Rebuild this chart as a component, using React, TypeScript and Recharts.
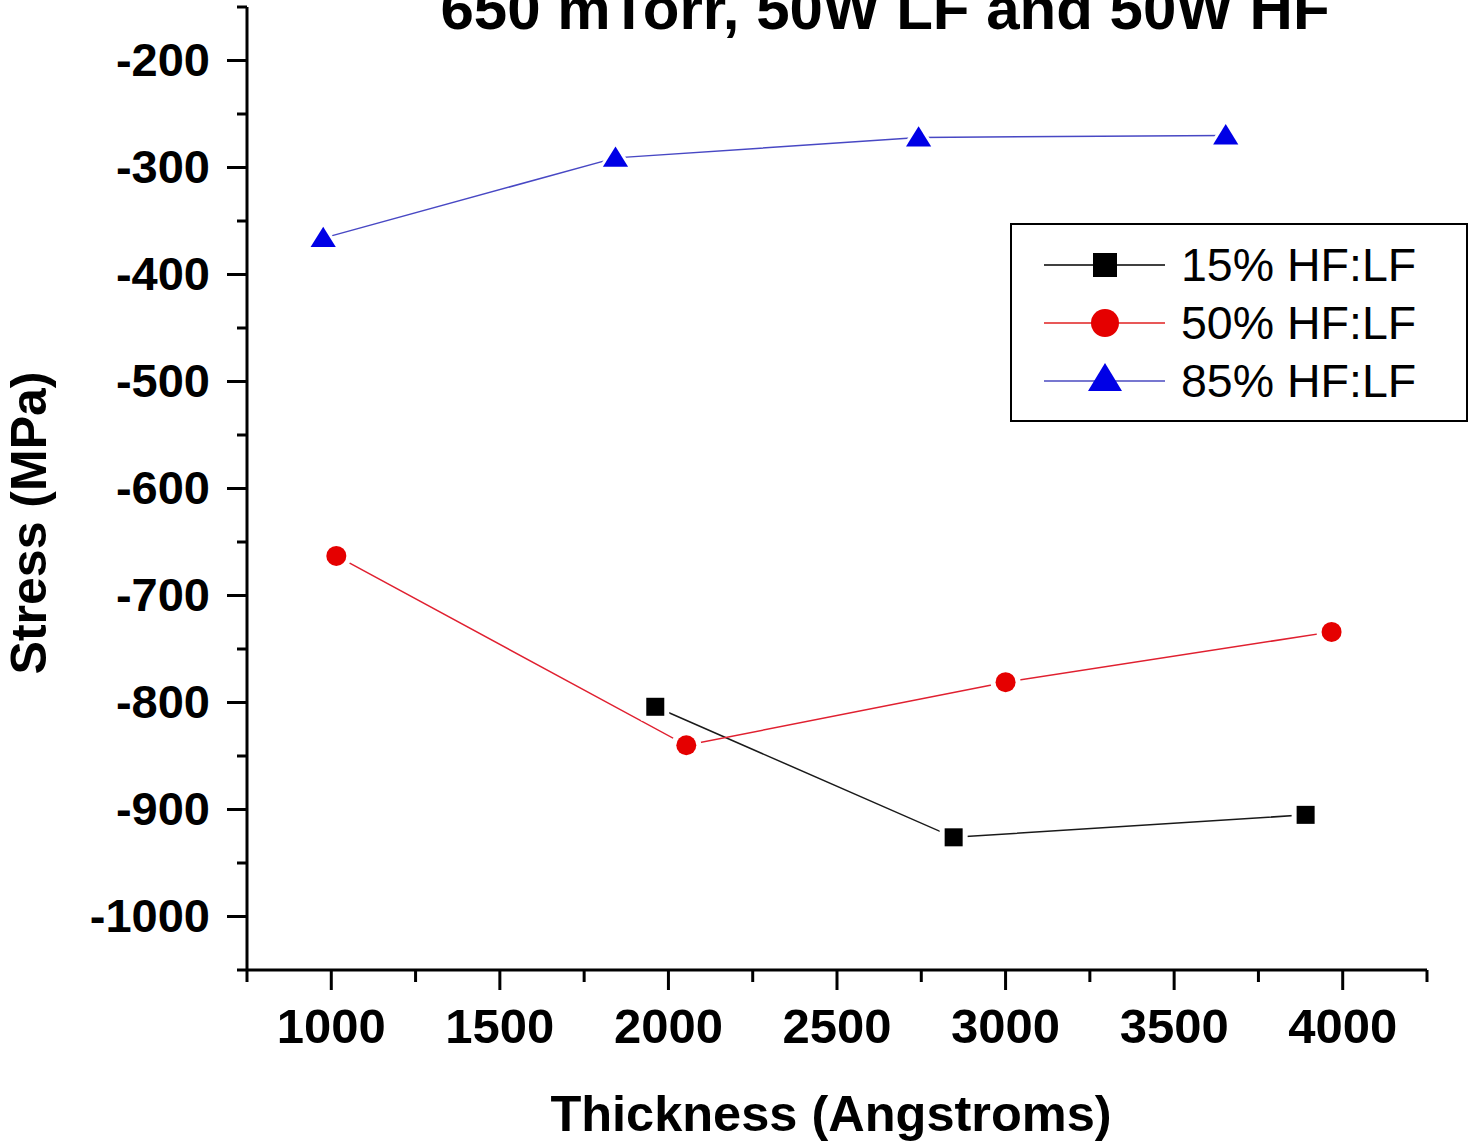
import React from 'react';
import { ComposedChart, Line, XAxis, YAxis, Legend } from 'recharts';

const thickness15 = [1961, 2846, 3890];
const stress15 = [-804, -926, -905];
const thickness50 = [1015, 2053, 3000, 3967];
const stress50 = [-663, -840, -781, -734];
const thickness85 = [976, 1843, 2742, 3653];
const stress85 = [-366, -291, -272, -270];

const seriesNames = ['15% HF:LF', '50% HF:LF', '85% HF:LF'];
const xTicks = [750, 1000, 1250, 1500, 1750, 2000, 2250, 2500, 2750, 3000, 3250, 3500, 3750, 4000, 4250];
const yTicks = [-1050, -1000, -950, -900, -850, -800, -750, -700, -650, -600, -550, -500, -450, -400, -350, -300, -250, -200, -150];

const toRows = (xs: number[], ys: number[]) => xs.map((x, i) => ({ x, y: ys[i] }));
const data15 = toRows(thickness15, stress15);
const data50 = toRows(thickness50, stress50);
const data85 = toRows(thickness85, stress85);

const FONT = '"Liberation Sans", Arial, sans-serif';
const BLACK = '#000000';
const RED = '#e50000';
const BLUE = '#0000e6';

const XTick = (props: any) => {
  const { x, y, payload } = props;
  const major = payload.value % 500 === 0;
  return (
    <g>
      <line x1={x} x2={x} y1={y} y2={y + (major ? 20 : 12)} stroke="#000" strokeWidth={3} />
      {major && (
        <text x={x} y={y + 73} textAnchor="middle" fontFamily={FONT} fontWeight="bold" fontSize={49} fill="#000">
          {payload.value}
        </text>
      )}
    </g>
  );
};

const YTick = (props: any) => {
  const { x, y, payload } = props;
  const major = payload.value % 100 === 0;
  return (
    <g>
      <line x1={x} x2={x - (major ? 20 : 10)} y1={y} y2={y} stroke="#000" strokeWidth={3} />
      {major && (
        <text x={x - 37} y={y + 15} textAnchor="end" fontFamily={FONT} fontWeight="bold" fontSize={47} fill="#000">
          {payload.value}
        </text>
      )}
    </g>
  );
};

const Square = ({ cx, cy, color, k }: any) => (
  <g key={k}>
    <rect x={cx - 14} y={cy - 14} width={28} height={28} fill="#fff" />
    <rect x={cx - 9} y={cy - 9} width={18} height={18} fill={color} />
  </g>
);
const Circle = ({ cx, cy, color, k }: any) => (
  <g key={k}>
    <circle cx={cx} cy={cy} r={15} fill="#fff" />
    <circle cx={cx} cy={cy} r={10} fill={color} />
  </g>
);
const Triangle = ({ cx, cy, color, k }: any) => {
  const pts = (s: number) => `${cx},${cy - s * 0.95} ${cx + s * 1.05},${cy + s * 0.75} ${cx - s * 1.05},${cy + s * 0.75}`;
  return (
    <g key={k}>
      <polygon points={pts(18)} fill="#fff" />
      <polygon points={pts(12)} fill={color} />
    </g>
  );
};

const dotFor = (Shape: any, color: string) => (p: any) =>
  <Shape key={`d-${p.index}`} k={`d-${p.index}`} cx={p.cx} cy={p.cy} color={color} />;

const LegendBox = () => {
  const rows = [
    { name: seriesNames[0], color: BLACK, line: '#000', Shape: Square },
    { name: seriesNames[1], color: RED, line: '#e02020', Shape: Circle },
    { name: seriesNames[2], color: BLUE, line: '#4a4ac0', Shape: Triangle },
  ];
  return (
    <svg width={459} height={200} style={{ display: 'block' }}>
      <rect x={1} y={1} width={456} height={197} fill="#fff" stroke="#000" strokeWidth={2} />
      {rows.map((r, i) => {
        const cy = 42 + i * 58;
        return (
          <g key={r.name}>
            <line x1={34} x2={155} y1={cy} y2={cy} stroke={r.line} strokeWidth={1.5} />
            {i === 0 && <rect x={83} y={cy - 12} width={24} height={24} fill={r.color} />}
            {i === 1 && <circle cx={95} cy={cy} r={14} fill={r.color} />}
            {i === 2 && (
              <polygon points={`95,${cy - 18} 112,${cy + 10} 78,${cy + 10}`} fill={r.color} />
            )}
            <text x={171} y={cy + 16} fontFamily={FONT} fontSize={46.5} fill="#000">
              {r.name}
            </text>
          </g>
        );
      })}
    </svg>
  );
};

export default function App() {
  return (
    <div style={{ position: 'absolute', left: 0, top: 0, width: 1469, height: 1146, background: '#fff', overflow: 'hidden' }}>
      <ComposedChart width={1469} height={1146} margin={{ top: 7, right: 42, bottom: 0, left: 0 }}>
        <XAxis
          type="number"
          dataKey="x"
          domain={[750, 4250]}
          ticks={xTicks}
          interval={0}
          allowDataOverflow
          height={176}
          tickSize={0}
          tickMargin={0}
          tickLine={false}
          axisLine={{ stroke: '#000', strokeWidth: 3 }}
          tick={<XTick />}
        />
        <YAxis
          type="number"
          dataKey="y"
          domain={[-1050, -150]}
          ticks={yTicks}
          interval={0}
          allowDataOverflow
          width={247}
          tickSize={0}
          tickMargin={0}
          tickLine={false}
          axisLine={{ stroke: '#000', strokeWidth: 3 }}
          tick={<YTick />}
        />
        <Line data={data15} dataKey="y" name={seriesNames[0]} stroke="#1a1a1a" strokeWidth={1.5} dot={dotFor(Square, BLACK)} activeDot={false} isAnimationActive={false} type="linear" />
        <Line data={data50} dataKey="y" name={seriesNames[1]} stroke="#e02030" strokeWidth={1.5} dot={dotFor(Circle, RED)} activeDot={false} isAnimationActive={false} type="linear" />
        <Line data={data85} dataKey="y" name={seriesNames[2]} stroke="#4848c4" strokeWidth={1.5} dot={dotFor(Triangle, BLUE)} activeDot={false} isAnimationActive={false} type="linear" />
        <Legend
          layout="vertical"
          align="center"
          verticalAlign="middle"
          content={<LegendBox />}
          wrapperStyle={{ position: 'absolute', left: 1010, top: 223, width: 459, height: 200, margin: 0 }}
        />
      </ComposedChart>
      <svg width={1469} height={1146} style={{ position: 'absolute', left: 0, top: 0, pointerEvents: 'none' }}>
        <text x={885} y={29} textAnchor="middle" fontFamily={FONT} fontWeight="bold" fontSize={60} fill="#000">
          650 mTorr, 50W LF and 50W HF
        </text>
        <text x={831} y={1131} textAnchor="middle" fontFamily={FONT} fontWeight="bold" fontSize={50.5} fill="#000">
          Thickness (Angstroms)
        </text>
        <text
          x={0}
          y={0}
          transform="translate(46,523) rotate(-90)"
          textAnchor="middle"
          fontFamily={FONT}
          fontWeight="bold"
          fontSize={50}
          fill="#000"
        >
          Stress (MPa)
        </text>
      </svg>
    </div>
  );
}
